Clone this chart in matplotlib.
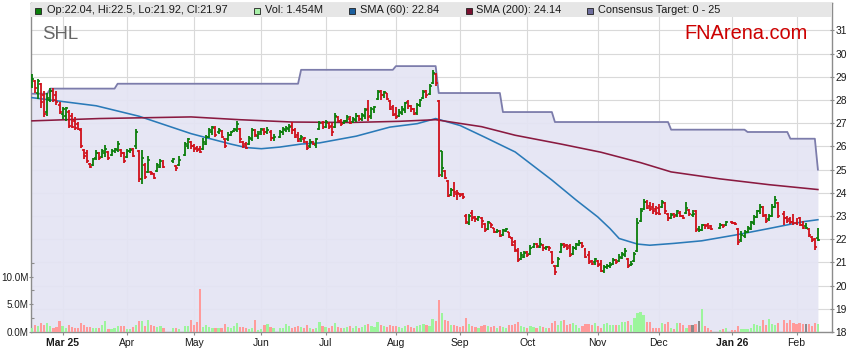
import numpy as np
import pandas as pd
import matplotlib
matplotlib.use("Agg")
import matplotlib.pyplot as plt
from matplotlib.patches import Rectangle

plt.rcParams['font.family'] = ['Liberation Sans', 'DejaVu Sans']

# ---------------- data ----------------
first_day = '2025-02-17'
last_day = '2026-02-11'
holidays = ['2025-04-18', '2025-04-21', '2025-04-25', '2025-06-09',
            '2025-12-25', '2025-12-26', '2026-01-01', '2026-01-26']

opens = [
    28.6, 28.8, 28.3, 28.7, 28.2, 27.5, 28.0, 28.4, 28.2, 27.8,
    27.4, 27.3, 27.5, 27.3, 27.1, 26.95, 26.7, 25.85, 25.7, 25.25,
    25.2, 25.5, 25.7, 25.55, 25.7, 25.75, 25.65, 25.8, 25.85, 25.85,
    25.7, 25.55, 25.8, 25.9, 26.0, 25.8, 24.6, 25.2, 24.9, 24.9,
    24.8, 24.95, 25.1, 25.3, 25.35, 25.15, 25.2, 25.65, 26.0, 26.2,
    26.0, 25.95, 25.9, 25.9, 26.1, 26.4, 26.6, 26.8, 26.6, 26.65,
    26.3, 26.3, 26.5, 26.65, 26.7, 26.75, 26.2, 26.1, 26.1, 26.3,
    26.7, 26.45, 26.6, 26.7, 26.6, 26.6, 26.35, 26.4, 26.6, 26.7,
    26.75, 26.9, 26.7, 26.5, 26.3, 26.3, 26.2, 26.0, 26.2, 26.05,
    26.75, 27.0, 26.85, 27.0, 26.9, 26.85, 27.25, 27.1, 27.0, 27.1,
    27.2, 27.05, 27.15, 27.3, 27.2, 27.3, 27.6, 27.3, 27.55, 28.05,
    28.4, 28.2, 28.3, 27.95, 27.7, 27.4, 27.3, 27.45, 27.55, 27.9,
    27.75, 27.6, 27.45, 27.8, 28.1, 28.4, 28.25, 28.75, 29.1, 27.95,
    25.8, 24.95, 24.5, 23.9, 24.1, 23.95, 23.95, 23.95, 23.0, 22.7,
    23.15, 22.95, 22.85, 22.9, 22.65, 22.45, 22.7, 22.5, 22.3, 22.35,
    22.2, 22.35, 22.3, 22.05, 21.9, 21.5, 21.15, 21.25, 21.45, 21.35,
    21.65, 21.8, 21.65, 21.75, 21.6, 21.65, 21.45, 20.85, 20.85, 21.45,
    21.8, 21.75, 21.7, 21.35, 21.6, 21.75, 21.85, 21.55, 21.3, 21.05,
    21.0, 21.05, 20.95, 20.65, 20.8, 20.85, 20.95, 21.1, 21.05, 21.2,
    21.3, 21.15, 20.9, 21.05, 21.5, 22.8, 23.3, 23.6, 23.45, 23.4,
    23.3, 23.35, 23.4, 23.55, 23.1, 22.9, 23.1, 23.05, 23.15, 23.0,
    23.15, 23.25, 23.05, 23.2, 22.45, 22.4, 22.6, 22.6, 22.55, 22.5,
    22.6, 22.6, 22.75, 22.7, 22.45, 21.95, 22.15, 22.3, 22.45, 22.7,
    22.95, 23.2, 23.4, 23.05, 22.85, 23.0, 23.4, 23.55, 23.1, 22.9,
    22.85, 22.75, 22.7, 22.9, 22.6, 22.55, 22.45, 22.1, 22.0, 22.04,
]
highs = [
    29.1, 28.85, 28.9, 28.75, 28.4, 28.3, 28.5, 28.5, 28.4, 27.9,
    27.7, 27.7, 27.55, 27.45, 27.25, 27.05, 26.8, 25.9, 25.85, 25.3,
    25.5, 25.85, 25.75, 25.9, 26.05, 25.8, 25.9, 25.95, 26.25, 25.9,
    25.75, 25.9, 25.95, 25.95, 26.75, 25.85, 25.85, 25.3, 25.6, 24.95,
    24.85, 25.3, 25.45, 25.4, 25.5, 25.2, 25.6, 26.2, 26.35, 26.25,
    26.1, 26.0, 26.0, 26.35, 26.5, 26.8, 26.9, 26.9, 26.8, 26.7,
    26.35, 26.6, 26.65, 26.8, 27.1, 26.8, 26.25, 26.2, 26.45, 26.8,
    26.75, 26.65, 26.8, 26.8, 26.85, 26.7, 26.55, 26.7, 26.85, 26.9,
    26.95, 27.05, 26.8, 26.6, 26.5, 26.4, 26.25, 26.3, 26.25, 26.35,
    27.1, 27.1, 27.15, 27.05, 27.0, 27.45, 27.3, 27.2, 27.15, 27.35,
    27.3, 27.25, 27.45, 27.35, 27.45, 27.65, 28.0, 27.7, 27.75, 28.45,
    28.45, 28.4, 28.3, 28.0, 27.8, 27.7, 27.6, 27.75, 27.9, 28.0,
    27.8, 27.65, 27.85, 28.05, 28.45, 28.45, 28.7, 29.3, 29.15, 28.0,
    25.8, 25.0, 24.55, 24.2, 24.45, 24.1, 24.0, 24.0, 23.1, 23.1,
    23.25, 23.0, 23.0, 22.95, 22.7, 22.8, 22.7, 22.5, 22.45, 22.4,
    22.45, 22.5, 22.3, 22.1, 21.95, 21.6, 21.45, 21.5, 21.5, 21.75,
    21.85, 21.85, 22.05, 21.8, 21.7, 21.7, 21.5, 20.9, 21.25, 21.85,
    21.85, 21.8, 21.8, 21.7, 21.85, 21.95, 21.9, 21.6, 21.5, 21.1,
    21.2, 21.1, 21.1, 20.9, 20.95, 21.0, 21.2, 21.15, 21.35, 21.45,
    21.6, 21.2, 21.05, 21.45, 22.9, 23.35, 23.75, 23.7, 23.6, 23.55,
    23.45, 23.5, 23.7, 23.6, 23.15, 23.15, 23.15, 23.25, 23.2, 23.05,
    23.6, 23.3, 23.25, 23.25, 22.55, 22.65, 22.65, 22.7, 22.6, 22.7,
    22.65, 22.8, 22.8, 22.75, 22.5, 22.35, 22.4, 22.55, 22.8, 23.05,
    23.25, 23.5, 23.45, 23.1, 23.1, 23.5, 23.85, 23.6, 23.2, 23.0,
    22.95, 23.1, 22.9, 22.95, 22.8, 22.7, 22.5, 22.15, 22.05, 22.5,
]
lows = [
    28.5, 28.3, 28.05, 27.65, 27.25, 27.3, 27.9, 27.9, 27.8, 27.4,
    27.2, 27.1, 26.8, 26.8, 26.7, 26.7, 25.95, 25.45, 25.3, 25.05,
    25.15, 25.4, 25.4, 25.5, 25.55, 25.4, 25.6, 25.7, 25.75, 25.55,
    25.3, 25.5, 25.7, 25.55, 25.9, 24.45, 24.4, 24.6, 24.85, 24.75,
    24.6, 24.9, 25.05, 25.05, 25.3, 24.95, 25.15, 25.6, 25.9, 25.9,
    25.75, 25.75, 25.7, 25.85, 26.05, 26.35, 26.5, 26.4, 26.55, 26.35,
    25.95, 26.25, 26.45, 26.6, 26.6, 26.15, 25.95, 25.9, 26.05, 26.25,
    26.4, 26.3, 26.5, 26.5, 26.55, 26.25, 26.25, 26.35, 26.5, 26.6,
    26.6, 26.55, 26.35, 26.2, 26.2, 26.15, 25.85, 25.95, 26.05, 25.95,
    26.7, 26.75, 26.8, 26.75, 26.45, 26.8, 27.05, 26.9, 26.95, 27.05,
    26.95, 27.0, 27.05, 27.1, 27.1, 27.2, 27.1, 27.2, 27.45, 28.0,
    28.0, 28.1, 28.0, 27.55, 27.3, 27.2, 27.25, 27.35, 27.45, 27.6,
    27.5, 27.35, 27.35, 27.7, 28.05, 28.1, 28.2, 28.7, 28.6, 24.7,
    24.7, 24.6, 23.8, 23.85, 23.8, 23.7, 23.8, 23.75, 22.65, 22.6,
    22.8, 22.75, 22.8, 22.5, 22.3, 22.4, 22.5, 22.25, 22.25, 22.1,
    22.15, 22.3, 22.05, 21.7, 21.45, 21.0, 21.1, 21.2, 21.25, 21.3,
    21.6, 21.6, 21.6, 21.5, 21.55, 21.5, 20.95, 20.45, 20.8, 21.4,
    21.6, 21.55, 21.25, 21.3, 21.55, 21.7, 21.6, 21.2, 20.95, 20.9,
    20.9, 20.8, 20.6, 20.55, 20.7, 20.75, 20.9, 20.95, 21.0, 21.15,
    21.25, 20.75, 20.85, 21.0, 21.45, 22.75, 23.25, 23.3, 23.2, 23.1,
    23.05, 23.05, 23.35, 23.1, 22.8, 22.85, 22.9, 22.95, 22.95, 22.85,
    23.1, 23.0, 22.95, 22.3, 22.3, 22.35, 22.45, 22.45, 22.4, 22.45,
    22.5, 22.55, 22.65, 22.6, 21.75, 21.9, 22.05, 22.25, 22.4, 22.6,
    22.9, 23.1, 22.95, 22.7, 22.8, 22.95, 23.35, 22.9, 22.6, 22.7,
    22.65, 22.6, 22.6, 22.55, 22.45, 22.45, 22.1, 21.9, 21.55, 21.92,
]
closes = [
    28.9, 28.5, 28.8, 27.9, 27.4, 28.1, 28.4, 28.0, 27.9, 27.5,
    27.6, 27.65, 26.9, 26.85, 26.8, 26.75, 26.0, 25.6, 25.35, 25.1,
    25.45, 25.7, 25.5, 25.8, 25.9, 25.5, 25.8, 25.9, 26.1, 25.7,
    25.35, 25.8, 25.85, 25.6, 26.6, 24.6, 25.5, 24.7, 25.4, 24.85,
    24.65, 25.2, 25.35, 25.1, 25.45, 25.05, 25.4, 26.1, 26.3, 26.0,
    25.9, 25.85, 25.75, 26.2, 26.4, 26.7, 26.85, 26.5, 26.7, 26.4,
    26.0, 26.5, 26.6, 26.75, 26.95, 26.3, 26.0, 25.95, 26.35, 26.7,
    26.5, 26.55, 26.75, 26.6, 26.7, 26.35, 26.4, 26.6, 26.75, 26.8,
    26.85, 26.7, 26.4, 26.25, 26.4, 26.35, 25.95, 26.2, 26.1, 26.3,
    27.0, 26.85, 27.05, 26.85, 26.6, 27.3, 27.1, 26.95, 27.1, 27.25,
    27.0, 27.2, 27.3, 27.2, 27.35, 27.55, 27.25, 27.6, 27.7, 28.35,
    28.2, 28.35, 28.05, 27.6, 27.35, 27.25, 27.5, 27.6, 27.85, 27.75,
    27.6, 27.4, 27.8, 28.0, 28.35, 28.2, 28.6, 29.15, 28.75, 24.75,
    25.05, 24.65, 23.85, 24.1, 24.05, 24.0, 23.9, 23.8, 22.75, 23.0,
    22.9, 22.85, 22.95, 22.8, 22.4, 22.75, 22.6, 22.3, 22.35, 22.15,
    22.4, 22.45, 22.1, 21.75, 21.55, 21.1, 21.3, 21.4, 21.3, 21.6,
    21.8, 21.7, 21.8, 21.6, 21.65, 21.6, 21.0, 20.6, 21.15, 21.75,
    21.7, 21.6, 21.3, 21.6, 21.8, 21.85, 21.7, 21.25, 21.0, 20.95,
    21.15, 20.9, 20.65, 20.8, 20.85, 20.9, 21.1, 21.0, 21.25, 21.35,
    21.5, 20.85, 20.95, 21.35, 22.7, 23.2, 23.6, 23.35, 23.3, 23.2,
    23.15, 23.1, 23.6, 23.2, 22.9, 23.05, 23.0, 23.2, 23.0, 22.9,
    23.35, 23.1, 23.1, 22.4, 22.4, 22.6, 22.55, 22.5, 22.45, 22.6,
    22.55, 22.75, 22.7, 22.65, 21.9, 22.2, 22.3, 22.5, 22.75, 22.95,
    23.2, 23.4, 23.0, 22.8, 23.0, 23.4, 23.7, 23.0, 22.9, 22.8,
    22.75, 22.7, 22.65, 22.6, 22.5, 22.5, 22.2, 21.95, 21.65, 21.97,
]
volumes_m = [
    0.7, 1.2, 1.0, 1.6, 1.2, 1.6, 1.0, 0.7, 0.9, 2.0,
    1.0, 0.7, 1.2, 0.9, 0.7, 0.7, 1.6, 1.2, 0.9, 0.9,
    0.7, 0.7, 0.7, 1.2, 2.0, 0.5, 0.6, 0.7, 1.0, 1.0,
    1.0, 0.5, 0.5, 0.9, 1.2, 2.0, 2.0, 1.1, 2.2, 1.2,
    1.0, 0.9, 1.0, 0.7, 0.7, 0.8, 0.6, 1.0, 1.0, 2.2,
    1.2, 1.8, 7.7, 0.9, 1.2, 0.9, 0.8, 0.8, 0.8, 0.8,
    1.4, 0.9, 0.8, 1.0, 1.6, 0.9, 0.9, 0.7, 0.5, 0.8,
    2.2, 0.3, 0.5, 1.2, 1.4, 0.9, 0.7, 0.8, 0.8, 1.4,
    1.0, 0.7, 0.9, 1.0, 0.9, 0.8, 1.3, 0.7, 0.6, 0.8,
    1.8, 1.0, 0.9, 0.8, 1.1, 1.6, 0.9, 0.8, 0.7, 0.9,
    1.0, 0.8, 1.0, 0.7, 0.9, 1.2, 1.5, 1.0, 0.9, 1.8,
    1.2, 1.0, 0.9, 1.2, 1.1, 1.0, 0.9, 0.8, 1.0, 1.3,
    0.9, 0.8, 1.0, 1.2, 1.4, 1.2, 1.1, 2.4, 2.0, 5.7,
    3.5, 2.2, 2.0, 1.3, 1.2, 1.0, 0.9, 1.0, 2.5, 1.4,
    1.0, 0.9, 0.8, 1.0, 1.3, 1.0, 0.9, 1.1, 0.8, 1.0,
    0.9, 0.8, 1.2, 1.3, 1.4, 1.8, 1.0, 0.9, 0.8, 1.0,
    0.9, 0.8, 1.1, 0.9, 0.7, 0.8, 1.6, 2.0, 1.3, 2.0,
    2.2, 1.2, 1.4, 1.6, 1.2, 0.8, 1.0, 1.4, 1.4, 1.2,
    1.6, 1.0, 0.8, 1.4, 1.6, 1.2, 1.2, 1.2, 1.2, 1.8,
    1.8, 2.0, 1.2, 2.5, 3.4, 3.7, 3.1, 1.8, 1.8, 0.8,
    0.8, 0.8, 1.6, 1.4, 1.8, 0.8, 0.6, 1.6, 1.6, 1.2,
    0.8, 1.2, 1.2, 1.4, 2.0, 4.1, 1.0, 0.7, 0.4, 0.4,
    0.6, 0.8, 0.3, 0.4, 1.0, 0.6, 0.6, 0.6, 0.8, 1.4,
    1.2, 1.0, 2.2, 1.2, 2.4, 1.4, 1.2, 1.6, 2.2, 1.6,
    2.2, 1.6, 1.4, 1.6, 1.4, 1.4, 1.4, 1.0, 1.6, 1.454,
]

sma60_dates = ['2025-02-17', '2025-03-05', '2025-03-18', '2025-04-07', '2025-04-30',
               '2025-05-08', '2025-05-19', '2025-05-26', '2025-06-02', '2025-06-10',
               '2025-06-19', '2025-06-27', '2025-07-15', '2025-07-30', '2025-08-12',
               '2025-08-20', '2025-09-01', '2025-09-11', '2025-09-25', '2025-10-13',
               '2025-10-23', '2025-11-03', '2025-11-07', '2025-11-12', '2025-11-20',
               '2025-11-26', '2025-12-08', '2025-12-19', '2026-01-05', '2026-01-20',
               '2026-02-04', '2026-02-11']
sma60_values = [28.1, 27.9, 27.75, 27.3, 26.55,
                26.34, 26.1, 25.95, 25.9, 25.97,
                26.1, 26.15, 26.44, 26.83, 26.98,
                27.2, 26.9, 26.4, 25.76, 24.55,
                23.68, 22.96, 22.46, 22.03, 21.79,
                21.74, 21.82, 21.93, 22.18, 22.46,
                22.75, 22.84]

sma200_dates = ['2025-02-17', '2025-03-19', '2025-04-30', '2025-05-22', '2025-06-16',
                '2025-07-11', '2025-08-04', '2025-08-20', '2025-09-10', '2025-09-25',
                '2025-10-16', '2025-11-04', '2025-11-21', '2025-12-05', '2025-12-29',
                '2026-01-20', '2026-02-11']
sma200_values = [27.1, 27.2, 27.27, 27.15, 27.05,
                 27.03, 27.08, 27.15, 26.85, 26.48,
                 26.1, 25.75, 25.3, 24.9, 24.6,
                 24.35, 24.14]

target_dates = ['2025-02-17', '2025-02-25', '2025-03-27', '2025-06-19', '2025-08-01',
                '2025-08-21', '2025-09-19', '2025-10-14', '2025-12-05', '2026-01-09',
                '2026-01-29', '2026-02-11']
target_values = [28.27, 28.49, 28.7, 29.3, 29.46,
                 28.3, 27.48, 27.05, 26.72, 26.62,
                 26.33, 25.0]

month_labels = ['Mar 25', 'Apr', 'May', 'Jun', 'Jul', 'Aug', 'Sep', 'Oct', 'Nov',
                'Dec', 'Jan 26', 'Feb']
bold_labels = ['Mar 25', 'Jan 26']
price_ticks = list(range(18, 32))
vol_ticks = [0, 5, 10]
vol_minor_ticks = [2.5, 7.5, 12.5]
vol_tick_labels = ['0.0M', '5.0M', '10.0M']

legend_items = [
    ('#0a7d0a', 'Op:22.04, Hi:22.5, Lo:21.92, Cl:21.97'),
    ('#a8f0a8', 'Vol: 1.454M'),
    ('#1c5f9e', 'SMA (60): 22.84'),
    ('#7a1030', 'SMA (200): 24.14'),
    ('#6e6e9e', 'Consensus Target: 0 - 25'),
]

# ---------------- layout constants ----------------
W, H = 859, 363
GREEN = '#0a7d0a'
RED = '#d0101a'
VOL_UP = '#9cf59c'
VOL_DN = '#ff9a9a'
VOL_EQ = '#8a8a8a'

all_days = pd.bdate_range(first_day, last_day)
hol = pd.to_datetime(holidays)
pos = pd.Series(np.arange(len(all_days), dtype=float), index=all_days)
trade_days = all_days[~all_days.isin(hol)]
x = pos[trade_days].values

o = np.array(opens); h = np.array(highs); l = np.array(lows); c = np.array(closes)
v = np.array(volumes_m)
prev = np.r_[c[0] - 1, c[:-1]]
bar_cols = np.where(c >= prev, GREEN, RED)
vol_cols = np.where(c > prev, VOL_UP, np.where(c < prev, VOL_DN, VOL_EQ))

fig = plt.figure(figsize=(W / 100, H / 100), dpi=100)
ax_left, ax_right, ax_top, ax_bot = 31, 832, 3, 332
ax = fig.add_axes([ax_left / W, (H - ax_bot) / H, (ax_right - ax_left) / W, (ax_bot - ax_top) / H])
ax2 = ax.twinx()

px_per_day = 3.058
x0 = (ax_left - 32) / px_per_day
x1 = (ax_right - 32) / px_per_day
ax.set_xlim(x0, x1)
ymin = 18.0
ax.set_ylim(ymin, 32.18)

# month ticks: first trading day of each month
ts = pd.Series(trade_days, index=trade_days)
firsts = ts.groupby([trade_days.year, trade_days.month]).first()
firsts = firsts[firsts >= pd.Timestamp('2025-03-01')]
tick_x = pos[pd.DatetimeIndex(firsts.values)].values
ax.set_xticks(tick_x)
ax.set_xticklabels(month_labels)
for lab in ax.get_xticklabels():
    if lab.get_text() in bold_labels:
        lab.set_fontweight('bold')

# price axis on the right
ax.yaxis.tick_right()
ax.yaxis.set_label_position('right')
ax.set_yticks(price_ticks)
ax.set_yticklabels([str(t) for t in price_ticks])
ax.tick_params(axis='y', which='major', left=False, right=True, labelleft=False,
               labelright=True, direction='inout', length=3.5, width=0.8,
               color='#8c8c8c', labelsize=7.4, pad=0.8, labelcolor='#1a1a1a')
ax.tick_params(axis='x', which='major', direction='out', length=2.5, width=0.8,
               color='#8c8c8c', labelsize=7.5, pad=2.0, labelcolor='#1a1a1a')

ax.set_axisbelow(True)
ax.grid(True, color='#d9d9d9', lw=0.8)
for sp in ax.spines.values():
    sp.set_color('#8c8c8c')
    sp.set_linewidth(1.0)

# consensus target (step values on each weekday) + shaded area
tgt = pd.Series(target_values, index=pd.to_datetime(target_dates))
tgt_daily = tgt.reindex(all_days, method='ffill')
tx = np.r_[x0, pos.values]
ty = np.r_[tgt_daily.values[0], tgt_daily.values]
ax.fill_between(tx, ty, ymin, color='#e4e4f4', alpha=0.92, lw=0, zorder=1)
ax.plot(tx, ty, color='#7c7cab', lw=1.3, zorder=3, solid_joinstyle='round')

# moving averages
s60x = pos[pd.to_datetime(sma60_dates)].values
ax.plot(s60x, sma60_values, color='#2a7ab8', lw=1.15, zorder=4)
s200x = pos[pd.to_datetime(sma200_dates)].values
ax.plot(s200x, sma200_values, color='#8a1a40', lw=1.15, zorder=4)

# OHLC bars
tick_len = 0.65
ax.vlines(x, l, h, colors=bar_cols, lw=1.3, zorder=5)
ax.hlines(o, x - tick_len, x, colors=bar_cols, lw=1.2, zorder=5)
ax.hlines(c, x, x + tick_len, colors=bar_cols, lw=1.2, zorder=5)

# volume on left axis
ax2.set_ylim(0, 59.4)
ax2.bar(x, v, width=0.72, color=vol_cols, lw=0, zorder=2)
ax2.yaxis.set_ticks_position('left')
ax2.yaxis.set_label_position('left')
ax2.set_yticks(vol_ticks)
ax2.set_yticklabels(vol_tick_labels)
ax2.set_yticks(vol_minor_ticks, minor=True)
ax2.tick_params(axis='y', which='major', direction='inout', length=3.0, width=0.8,
                color='#8c8c8c', labelsize=7.1, pad=0.4, labelcolor='#1a1a1a')
ax2.tick_params(axis='y', which='minor', direction='in', length=2.5, width=0.8,
                color='#8c8c8c')
for sp in ax2.spines.values():
    sp.set_visible(False)

# top legend band
band_h = (17 - ax_top) / (ax_bot - ax_top)
ax2.add_patch(Rectangle((0, 1 - band_h), 1, band_h, transform=ax2.transAxes,
                        facecolor='#e6e6e6', edgecolor='none', zorder=6, clip_on=False))
sq_x = [35, 254, 349, 466, 587]
txt_x = [47, 265, 360, 476, 598]
base_y = 13.3
sq = 5.5
for (col, label), sx, tx_ in zip(legend_items, sq_x, txt_x):
    fig.patches.append(Rectangle((sx / W, (H - 13.5) / H), sq / W, sq / H,
                                 transform=fig.transFigure, facecolor=col,
                                 edgecolor='#202020', lw=0.6, zorder=10))
    fig.text(tx_ / W, (H - base_y) / H, label, fontsize=7.9, color='#1a1a1a',
             va='baseline', ha='left', zorder=11)

fig.text(42 / W, (H - 39.3) / H, 'SHL', fontsize=13.4, color='#666666',
         va='baseline', ha='left')
fig.text(808 / W, (H - 39.3) / H, 'FNArena.com', fontsize=14.4, color='#cc0000',
         va='baseline', ha='right')

fig.savefig('out.png', dpi=100)
